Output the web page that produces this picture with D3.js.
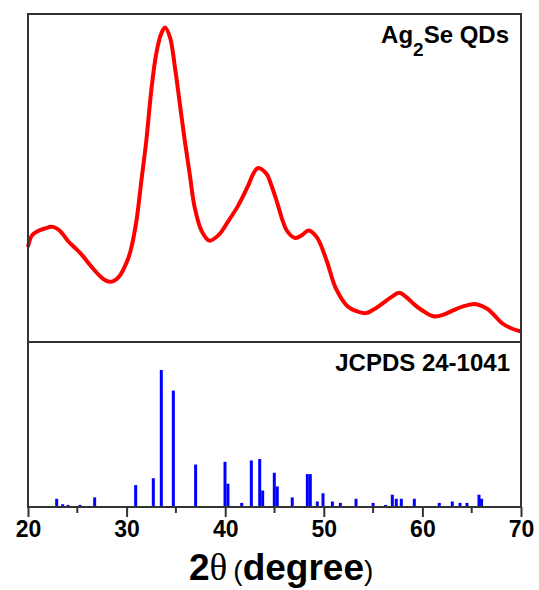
<!DOCTYPE html>
<html>
<head>
<meta charset="utf-8" />
<script src="https://cdn.jsdelivr.net/npm/d3@7"></script>
<style>
  body { margin: 0; background: #fff; }
  svg text { font-family: Arial, "Liberation Sans", sans-serif; font-weight: bold; fill: #000; }
</style>
</head>
<body>
<div id="chart"></div>
<script>
// measured pattern (Ag2Se QDs), 2theta in degrees, intensity in a.u.
var xrdTheta = [20.0, 20.4, 21.0, 21.7, 22.4, 23.0, 23.5, 24.05, 24.7, 25.4, 26.1, 26.8, 27.4, 27.9, 28.5, 29.0, 29.4,
  29.8, 30.2, 30.5, 31.0, 31.5, 32.0, 32.5, 33.0, 33.5, 33.9, 34.4, 34.9, 35.4, 35.9, 36.4, 36.9, 37.6,
  38.4, 39.3, 40.3, 41.3, 42.3, 42.8, 43.3, 44.2, 44.6, 45.2, 46.25, 47.1, 47.8, 48.45, 49.3, 50.3, 51.2, 52.4,
  53.3, 54.25, 55.0, 55.8, 56.8, 57.65, 58.4, 59.2, 60.2, 61.2, 62.2, 63.3, 64.3, 65.3, 66.0, 66.7,
  67.4, 68.05, 69.0, 70.0];
var xrdIntensity = [29.0, 32.5, 33.8, 34.6, 35.1, 34.5, 33.0, 30.8, 28.9, 26.8, 24.2, 21.7, 19.8, 18.7, 18.4, 19.2, 20.6,
  22.9, 25.8, 29.0, 37.0, 49.2, 61.4, 76.6, 87.8, 93.9, 95.9, 92.9, 83.8, 72.6, 61.4, 51.2, 41.1, 33.9,
  30.9, 32.5, 36.8, 41.5, 47.5, 51.0, 53.0, 51.2, 48.5, 43.2, 34.0, 31.7, 32.6, 34.0, 31.9, 24.7, 16.5, 10.9,
  9.4, 8.8, 9.8, 11.4, 13.6, 15.0, 13.6, 11.4, 9.2, 7.8, 8.4, 9.9, 11.0, 11.6, 11.0, 9.9,
  7.8, 5.8, 4.2, 3.2];

// reference card JCPDS 24-1041: peak positions and relative intensities
var refTheta = [22.91, 23.52, 24.06, 25.27, 26.76, 30.92, 32.71, 33.52, 34.74, 37.0, 39.98, 40.28, 41.67,
  42.65, 43.5, 43.8, 44.98, 45.28, 46.8, 48.33, 48.63, 49.34, 49.92, 50.87, 51.68, 53.27, 55.0, 56.27,
  56.95, 57.35, 57.86, 59.18, 61.71, 63.03, 63.81, 64.52, 65.74, 66.0];
var refIntensity = [6, 2, 1.5, 1.5, 7, 16, 21, 100, 85, 31, 33, 17, 3,
  34, 35, 12, 25, 15, 7, 24, 24, 4, 10, 4, 3, 6, 3, 1.5,
  9, 6, 6, 6, 3, 4, 3, 3, 9, 6];

var xTicks = [20, 30, 40, 50, 60, 70];
var xMinorTicks = [25, 35, 45, 55, 65];

var W = 539, H = 590;
var pLeft = 28, pRight = 521, pTop = 14, pMid = 342, pBottom = 507;

var svg = d3.select("#chart").append("svg")
  .attr("width", W)
  .attr("height", H);

var x = d3.scaleLinear().domain([20, 70]).range([pLeft, pRight]);
var yTop = d3.scaleLinear().domain([0, 100]).range([pMid, pTop]);
var yBot = d3.scaleLinear().domain([0, 100]).range([pBottom, 370]);

// red curve
var line = d3.line()
  .x(function(d, i) { return x(xrdTheta[i]); })
  .y(function(d) { return yTop(d); })
  .curve(d3.curveCatmullRom);

svg.append("path")
  .datum(xrdIntensity)
  .attr("d", line)
  .attr("fill", "none")
  .attr("stroke", "#ff0000")
  .attr("stroke-width", 4)
  .attr("stroke-linejoin", "round");

// blue reference sticks
svg.selectAll("rect.ref")
  .data(refIntensity)
  .enter()
  .append("rect")
  .attr("class", "ref")
  .attr("x", function(d, i) { return x(refTheta[i]) - 1.5; })
  .attr("y", function(d) { return yBot(d); })
  .attr("width", 3)
  .attr("height", function(d) { return yBot(0) - yBot(d); })
  .attr("fill", "#0000ff");

// frame + separator
svg.append("rect")
  .attr("x", pLeft).attr("y", pTop)
  .attr("width", pRight - pLeft).attr("height", pBottom - pTop)
  .attr("fill", "none")
  .attr("stroke", "#333")
  .attr("stroke-width", 2);

svg.append("line")
  .attr("x1", pLeft).attr("x2", pRight)
  .attr("y1", pMid).attr("y2", pMid)
  .attr("stroke", "#333")
  .attr("stroke-width", 2);

// bottom axis
var axis = d3.axisBottom(x)
  .tickValues(xTicks)
  .tickSize(10)
  .tickPadding(4)
  .tickFormat(d3.format("d"));

var gAxis = svg.append("g")
  .attr("transform", "translate(0," + pBottom + ")")
  .call(axis);
gAxis.select(".domain").remove();
gAxis.selectAll(".tick line").attr("stroke", "#333").attr("stroke-width", 2);
gAxis.selectAll(".tick text")
  .style("font-size", "23px")
  .style("font-family", "Arial, 'Liberation Sans', sans-serif")
  .style("font-weight", "bold")
  .attr("fill", "#000");

svg.selectAll("line.minor")
  .data(xMinorTicks)
  .enter()
  .append("line")
  .attr("class", "minor")
  .attr("x1", function(d) { return x(d); })
  .attr("x2", function(d) { return x(d); })
  .attr("y1", pBottom)
  .attr("y2", pBottom + 6)
  .attr("stroke", "#333")
  .attr("stroke-width", 2);

// axis title
var title = svg.append("text")
  .attr("x", 189)
  .attr("y", 580)
  .style("font-size", "37px");
title.append("tspan").text("2");
title.append("tspan")
  .style("font-family", "'Liberation Serif', 'DejaVu Serif', serif")
  .style("font-weight", "normal")
  .text("\u03b8");
title.append("tspan")
  .attr("dx", 6)
  .style("font-size", "28px")
  .style("font-weight", "normal")
  .text("(");
title.append("tspan").text("degree");
title.append("tspan")
  .style("font-size", "28px")
  .style("font-weight", "normal")
  .text(")");

// panel labels
var lab1 = svg.append("text")
  .attr("x", 509)
  .attr("y", 43)
  .attr("text-anchor", "end")
  .style("font-size", "24px");
lab1.append("tspan").text("Ag");
lab1.append("tspan").attr("dy", 13).style("font-size", "19px").text("2");
lab1.append("tspan").attr("dy", -13).text("Se QDs");

svg.append("text")
  .attr("x", 510)
  .attr("y", 371)
  .attr("text-anchor", "end")
  .style("font-size", "24px")
  .text("JCPDS 24-1041");
</script>
</body>
</html>
